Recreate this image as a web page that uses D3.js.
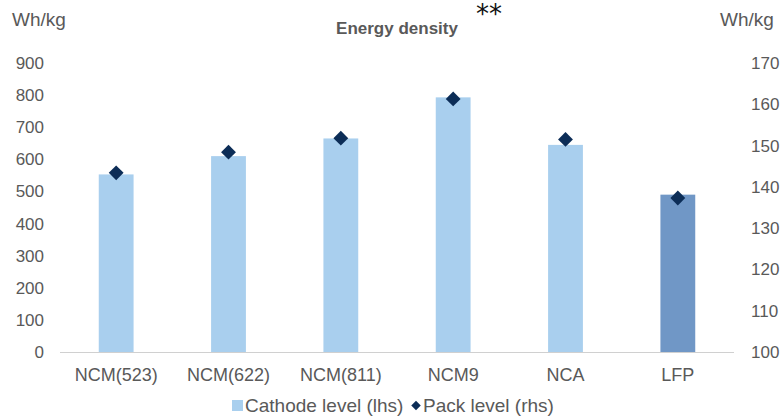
<!DOCTYPE html>
<html>
<head>
<meta charset="utf-8">
<script src="https://cdn.jsdelivr.net/npm/d3@7"></script>
<style>
  html, body { margin: 0; padding: 0; background: #ffffff; }
  svg { display: block; font-family: "Liberation Sans", Arial, sans-serif; }
</style>
</head>
<body>
<svg id="chart" width="783" height="419"></svg>
<script>
// Chemistries on the x axis
const categories = ["NCM(523)", "NCM(622)", "NCM(811)", "NCM9", "NCA", "LFP"];
// Cathode-level energy density, Wh/kg (left axis)
const cathodeLevel = [553, 610, 665, 793, 645, 490];
// Pack-level energy density, Wh/kg (right axis)
const packLevel = [143.4, 148.4, 151.8, 161.3, 151.5, 137.3];
// Axis ticks
const leftTicks = [0, 100, 200, 300, 400, 500, 600, 700, 800, 900];
const rightTicks = [100, 110, 120, 130, 140, 150, 160, 170];

const svg = d3.select("#chart");
const textColor = "#595959";
const barColor = "#a9cfee";
const lfpColor = "#7097c6";
const markColor = "#0c2d57";

const plot = { left: 60, right: 734, top: 63, bottom: 352 };

const x = d3.scaleBand()
  .domain(categories)
  .range([plot.left, plot.right])
  .paddingInner(0.69)
  .paddingOuter(0.345);

const yLeft = d3.scaleLinear().domain([0, 900]).range([plot.bottom, plot.top]);
const yRight = d3.scaleLinear().domain([100, 170]).range([plot.bottom, plot.top]);

// Left axis labels
const leftAxis = d3.axisLeft(yLeft).tickValues(leftTicks).tickSize(0).tickPadding(0);
const gl = svg.append("g").attr("transform", `translate(${plot.left - 16},0)`).call(leftAxis);
gl.select(".domain").remove();
gl.selectAll("text").attr("fill", textColor).style("font-size", "17px");

// Right axis labels
const rightAxis = d3.axisRight(yRight).tickValues(rightTicks).tickSize(0).tickPadding(0);
const gr = svg.append("g").attr("transform", `translate(${plot.right + 17},0)`).call(rightAxis);
gr.select(".domain").remove();
gr.selectAll("text").attr("fill", textColor).style("font-size", "17px");

// Category axis
const bottomAxis = d3.axisBottom(x).tickSize(0).tickPadding(0);
const gb = svg.append("g").attr("transform", `translate(0,${plot.bottom + 16})`).call(bottomAxis);
gb.select(".domain").remove();
gb.selectAll("text").attr("fill", textColor).style("font-size", "18px");

// Bars (cathode level)
svg.append("g").selectAll("rect")
  .data(categories)
  .join("rect")
  .attr("x", d => x(d))
  .attr("width", x.bandwidth())
  .attr("y", (d, i) => yLeft(cathodeLevel[i]))
  .attr("height", (d, i) => yLeft(0) - yLeft(cathodeLevel[i]))
  .attr("fill", d => d === "LFP" ? lfpColor : barColor);

// Baseline
svg.append("line")
  .attr("x1", plot.left).attr("x2", plot.right)
  .attr("y1", plot.bottom + 0.5).attr("y2", plot.bottom + 0.5)
  .attr("stroke", "#d0d0d0").attr("stroke-width", 1);

// Diamonds (pack level)
const diamond = d3.symbol().type(d3.symbolSquare).size(110);
svg.append("g").selectAll("path")
  .data(categories)
  .join("path")
  .attr("d", diamond)
  .attr("transform", (d, i) => `translate(${x(d) + x.bandwidth() / 2},${yRight(packLevel[i])}) rotate(45)`)
  .attr("fill", markColor);

// Title and units
svg.append("text").attr("x", 397).attr("y", 34).attr("text-anchor", "middle")
  .attr("fill", textColor).style("font-size", "17px").style("font-weight", "bold")
  .text("Energy density");
svg.append("text").attr("x", 476).attr("y", 23)
  .attr("fill", "#111").style("font-family", "'DejaVu Sans', sans-serif").style("font-size", "26px")
  .text("**");
svg.append("text").attr("x", 12).attr("y", 26)
  .attr("fill", textColor).style("font-size", "19px").text("Wh/kg");
svg.append("text").attr("x", 720).attr("y", 26)
  .attr("fill", textColor).style("font-size", "19px").text("Wh/kg");

// Legend
const legend = svg.append("g").attr("transform", "translate(0,412)");
legend.append("rect").attr("x", 232).attr("y", -12).attr("width", 11).attr("height", 11).attr("fill", barColor);
legend.append("text").attr("x", 245).attr("y", 0)
  .attr("fill", textColor).style("font-size", "19px").text("Cathode level (lhs)");
legend.append("path").attr("d", d3.symbol().type(d3.symbolSquare).size(45))
  .attr("transform", "translate(416,-6.5) rotate(45)").attr("fill", markColor);
legend.append("text").attr("x", 423).attr("y", 0)
  .attr("fill", textColor).style("font-size", "19px").text("Pack level (rhs)");
</script>
</body>
</html>
